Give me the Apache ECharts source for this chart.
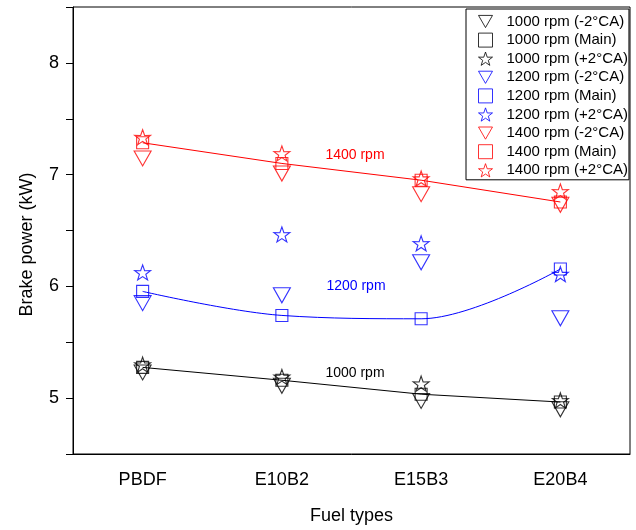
<!DOCTYPE html>
<html>
<head>
<meta charset="utf-8">
<script src="https://cdn.jsdelivr.net/npm/echarts@6/dist/echarts.min.js"></script>
<style>
html,body{margin:0;padding:0;background:#fff;}
#chart{width:636px;height:530px;}
</style>
</head>
<body>
<div id="chart"></div>
<script>
const categories = ['PBDF', 'E10B2', 'E15B3', 'E20B4'];
const yTicks = [5, 6, 7, 8];

const rpm1000Minus = [5.23, 5.11, 4.975, 4.90];
const rpm1000Main  = [5.275, 5.16, 5.035, 4.965];
const rpm1000Plus  = [5.30, 5.19, 5.13, 4.98];

const rpm1200Minus = [5.85, 5.92, 6.215, 5.715];
const rpm1200Main  = [5.955, 5.74, 5.71, 6.155];
const rpm1200Plus  = [6.125, 6.465, 6.385, 6.11];

const rpm1400Minus = [7.145, 7.01, 6.825, 6.73];
const rpm1400Main  = [7.285, 7.10, 6.95, 6.755];
const rpm1400Plus  = [7.335, 7.19, 6.965, 6.85];

const legendNames = [
  '1000 rpm (-2°CA)', '1000 rpm (Main)', '1000 rpm (+2°CA)',
  '1200 rpm (-2°CA)', '1200 rpm (Main)', '1200 rpm (+2°CA)',
  '1400 rpm (-2°CA)', '1400 rpm (Main)', '1400 rpm (+2°CA)'
];
const annotations = ['1400 rpm', '1200 rpm', '1000 rpm'];

const STAR = 'path://M50,0 L61.8,35.1 L97.6,34.5 L69.1,56.7 L79.4,90.5 L50,70.4 L20.6,90.5 L30.9,56.7 L2.4,34.5 L38.2,35.1 Z';
const TRI_DOWN = 'path://M0,0 L100,0 L50,87 Z';

function scatter(name, data, color, kind) {
  let symbol, size;
  if (kind === 'tri') { symbol = TRI_DOWN; size = [17, 15]; }
  else if (kind === 'sq') { symbol = 'rect'; size = [12, 12]; }
  else { symbol = STAR; size = [16, 15]; }
  return {
    name: name, type: 'scatter', data: data, symbol: symbol, symbolSize: size,
    itemStyle: { color: 'rgba(0,0,0,0)', borderColor: color, borderWidth: 1.1 },
    z: 3
  };
}
function fitLine(data, color, smooth) {
  return {
    name: 'fit', type: 'line', data: data, showSymbol: false, symbol: 'none',
    smooth: smooth, lineStyle: { color: color, width: 1 }, z: 2, silent: true
  };
}

const chart = echarts.init(document.getElementById('chart'));
const font = 'Liberation Sans, Arial, sans-serif';
chart.setOption({
  animation: false,
  backgroundColor: '#fff',
  grid: { left: 73, right: 6, top: 7, bottom: 71, show: true, borderColor: '#000', borderWidth: 1, containLabel: false },
  xAxis: {
    type: 'category', data: categories, boundaryGap: true,
    name: 'Fuel types', nameLocation: 'middle', nameGap: 53,
    nameTextStyle: { fontSize: 18, color: '#000', fontFamily: font },
    axisLine: { lineStyle: { color: '#000', width: 1 } },
    axisTick: { alignWithLabel: true, length: 7, lineStyle: { color: '#000' } },
    axisLabel: { fontSize: 18, color: '#000', fontFamily: font, margin: 17 },
    splitLine: { show: false }
  },
  yAxis: {
    type: 'value', min: 4.5, max: 8.5, interval: 0.5,
    name: 'Brake power (kW)', nameLocation: 'middle', nameGap: 37,
    nameTextStyle: { fontSize: 18, color: '#000', fontFamily: font, padding: [0, 28, 0, 0] },
    axisLine: { show: true, lineStyle: { color: '#000', width: 1 } },
    axisTick: { show: true, length: 7, lineStyle: { color: '#000' } },
    axisLabel: {
      fontSize: 18, color: '#000', fontFamily: font, margin: 14,
      formatter: v => (yTicks.indexOf(v) >= 0 ? String(v) : '')
    },
    splitLine: { show: false }
  },
  legend: {
    data: legendNames, orient: 'vertical', left: 466, top: 9,
    itemWidth: 14, itemHeight: 14, itemGap: 3.6,
    padding: [5, 1, 2, 12],
    itemStyle: { borderWidth: 1 },
    borderColor: '#000', borderWidth: 1, backgroundColor: '#fff',
    textStyle: { fontSize: 15, color: '#000', fontFamily: font, padding: [0, 0, 0, 9] },
    selectedMode: false
  },
  graphic: [
    { type: 'text', x: 355, y: 155, style: { text: annotations[0], fill: '#ff0000', font: '14px ' + font, align: 'center', verticalAlign: 'middle' } },
    { type: 'text', x: 356, y: 286, style: { text: annotations[1], fill: '#0000ff', font: '14px ' + font, align: 'center', verticalAlign: 'middle' } },
    { type: 'text', x: 355, y: 373, style: { text: annotations[2], fill: '#000000', font: '14px ' + font, align: 'center', verticalAlign: 'middle' } }
  ],
  series: [
    fitLine(rpm1000Main, '#000000', false),
    fitLine(rpm1200Main, '#0000ff', 0.35),
    fitLine(rpm1400Main, '#ff0000', false),
    scatter(legendNames[0], rpm1000Minus, '#000000', 'tri'),
    scatter(legendNames[1], rpm1000Main, '#000000', 'sq'),
    scatter(legendNames[2], rpm1000Plus, '#000000', 'star'),
    scatter(legendNames[3], rpm1200Minus, '#0000ff', 'tri'),
    scatter(legendNames[4], rpm1200Main, '#0000ff', 'sq'),
    scatter(legendNames[5], rpm1200Plus, '#0000ff', 'star'),
    scatter(legendNames[6], rpm1400Minus, '#ff0000', 'tri'),
    scatter(legendNames[7], rpm1400Main, '#ff0000', 'sq'),
    scatter(legendNames[8], rpm1400Plus, '#ff0000', 'star')
  ]
});
</script>
</body>
</html>
